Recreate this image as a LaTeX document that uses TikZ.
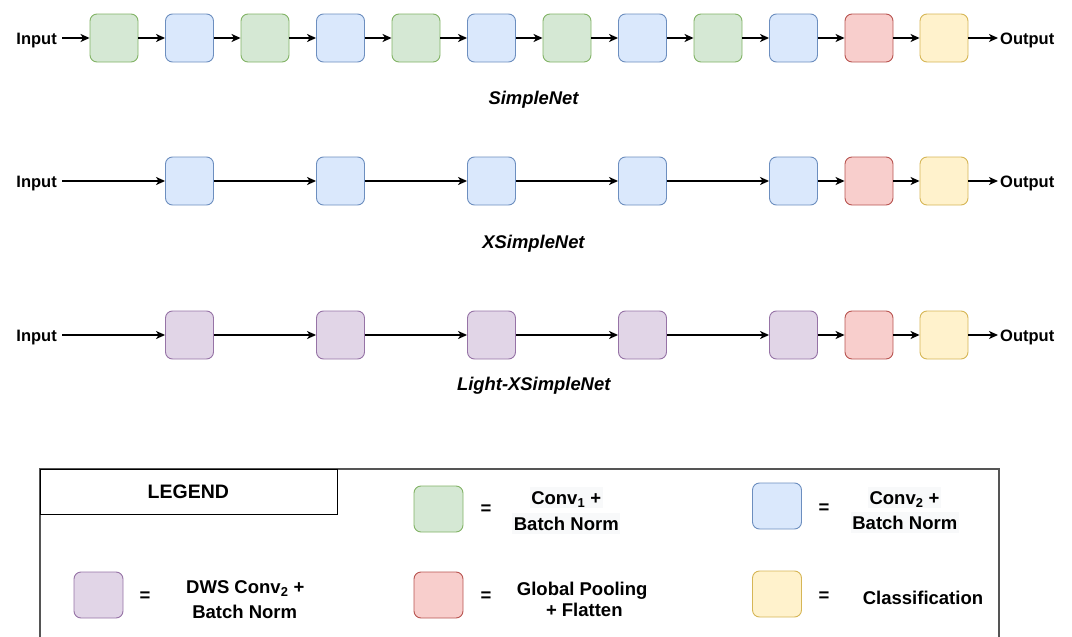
\documentclass[tikz,border=0pt]{standalone}
\usepackage{fontspec}
\setmainfont{Liberation Sans}
\usetikzlibrary{arrows.meta}

% draw.io palette
\definecolor{gfill}{HTML}{D5E8D4}\definecolor{gline}{HTML}{82B366}
\definecolor{bfill}{HTML}{DAE8FC}\definecolor{bline}{HTML}{6C8EBF}
\definecolor{rfill}{HTML}{F8CECC}\definecolor{rline}{HTML}{B85450}
\definecolor{yfill}{HTML}{FFF2CC}\definecolor{yline}{HTML}{D6B656}
\definecolor{pfill}{HTML}{E1D5E7}\definecolor{pline}{HTML}{9673A6}
\definecolor{hlc}{HTML}{F8F9FA}
\definecolor{frame}{HTML}{555555}

\tikzset{
  blk/.style={draw, rounded corners=7pt, minimum width=48pt, minimum height=48pt,
              inner sep=0pt, line width=0.9pt},
  conva/.style={blk, fill=gfill, draw=gline},
  convb/.style={blk, fill=bfill, draw=bline},
  pool/.style={blk, fill=rfill, draw=rline},
  clsf/.style={blk, fill=yfill, draw=yline},
  dws/.style={blk, fill=pfill, draw=pline},
  legblk/.style={minimum height=46pt, minimum width=49pt},
  flow/.style={-{Stealth[length=9pt,width=8pt,inset=2.5pt]}, line width=1.3pt},
  io/.style={font=\fontsize{16.5}{20}\selectfont\bfseries, inner sep=0pt,
             text height=12pt, text depth=0pt},
  netname/.style={font=\fontsize{18.4}{22}\selectfont\bfseries\itshape, inner sep=0pt, anchor=base},
  lt/.style={font=\fontsize{18.5}{22}\selectfont\bfseries, inner sep=0pt, anchor=base},
  hl/.style={lt, fill=hlc, inner xsep=1.5pt, text height=17pt, text depth=4pt},
  eq/.style={font=\fontsize{18.5}{22}\selectfont\bfseries, inner sep=0pt},
}

\begin{document}
\begin{tikzpicture}[x=1pt, y=-1pt]
\useasboundingbox (0,0) rectangle (1072,637);

% ---------- SimpleNet ----------
\node[io, anchor=east] (in1) at (57,38) {Input};
\foreach \i/\s [count=\k] in {114/conva, 189.5/convb, 265/conva, 340.5/convb, 416/conva,
    491.5/convb, 567/conva, 642.5/convb, 718/conva, 793.5/convb, 869/pool, 944/clsf}
  \node[\s] (a\k) at (\i,38) {};
\node[io, anchor=west] (out1) at (1000,38) {Output};
\draw[flow] ([xshift=5pt]in1.east) -- (a1);
\foreach \k [evaluate=\k as \n using int(\k+1)] in {1,...,11}
  \draw[flow] (a\k) -- (a\n);
\draw[flow] (a12) -- ([xshift=-2pt]out1.west);
\node[netname] (n1) at (533.5,104) {SimpleNet};

% ---------- XSimpleNet ----------
\node[io, anchor=east] (in2) at (57,181) {Input};
\foreach \i/\s [count=\k] in {189.5/convb, 340.5/convb, 491.5/convb, 642.5/convb,
    793.5/convb, 869/pool, 944/clsf}
  \node[\s] (b\k) at (\i,181) {};
\node[io, anchor=west] (out2) at (1000,181) {Output};
\draw[flow] ([xshift=5pt]in2.east) -- (b1);
\foreach \k [evaluate=\k as \n using int(\k+1)] in {1,...,6}
  \draw[flow] (b\k) -- (b\n);
\draw[flow] (b7) -- ([xshift=-2pt]out2.west);
\node[netname] (n2) at (533.5,248.3) {XSimpleNet};

% ---------- Light-XSimpleNet ----------
\node[io, anchor=east] (in3) at (57,335) {Input};
\foreach \i/\s [count=\k] in {189.5/dws, 340.5/dws, 491.5/dws, 642.5/dws,
    793.5/dws, 869/pool, 944/clsf}
  \node[\s] (c\k) at (\i,335) {};
\node[io, anchor=west] (out3) at (1000,335) {Output};
\draw[flow] ([xshift=5pt]in3.east) -- (c1);
\foreach \k [evaluate=\k as \n using int(\k+1)] in {1,...,6}
  \draw[flow] (c\k) -- (c\n);
\draw[flow] (c7) -- ([xshift=-2pt]out3.west);
\node[netname] (n3) at (533.7,390) {Light-XSimpleNet};

% ---------- Legend ----------
\draw[frame, line width=1.2pt] (40,645) -- (40,469) -- (999,469) -- (999,645);
\node[draw=black, line width=1pt, minimum width=297pt, minimum height=45pt,
      anchor=north west, inner sep=0pt] (legbox) at (40,469) {};
\node[font=\fontsize{19.5}{22}\selectfont\bfseries, inner sep=0pt, anchor=base]
      (legtitle) at (188.3,498.3) {LEGEND};

% Conv1 + Batch Norm
\node[conva, legblk] (lg1) at (438.5,509) {};
\node[eq] (eq1) at (486,510) {=};
\node[hl] (t1a) at (566.2,504.3) {Conv\textsubscript{1} +};
\node[hl] (t1b) at (566.3,530) {Batch Norm};

% Conv2 + Batch Norm
\node[convb, legblk] (lg2) at (777,506) {};
\node[eq] (eq2) at (824,509) {=};
\node[hl] (t2a) at (904.5,504.3) {Conv\textsubscript{2} +};
\node[hl] (t2b) at (904.8,529.3) {Batch Norm};

% DWS Conv2 + Batch Norm
\node[dws, legblk] (lg3) at (98.5,595) {};
\node[eq] (eq3) at (145,596.7) {=};
\node[lt] (t3a) at (245.3,593.3) {DWS Conv\textsubscript{2} +};
\node[lt] (t3b) at (244.7,618.3) {Batch Norm};

% Global Pooling + Flatten
\node[pool, legblk] (lg4) at (438.5,595) {};
\node[eq] (eq4) at (486,596.7) {=};
\node[lt] (t4a) at (582.2,595) {Global Pooling};
\node[lt] (t4b) at (584.3,616.7) {+ Flatten};

% Classification
\node[clsf, legblk] (lg5) at (777,594) {};
\node[eq] (eq5) at (824,596.7) {=};
\node[lt] (t5) at (923,604) {Classification};
\end{tikzpicture}
\end{document}
